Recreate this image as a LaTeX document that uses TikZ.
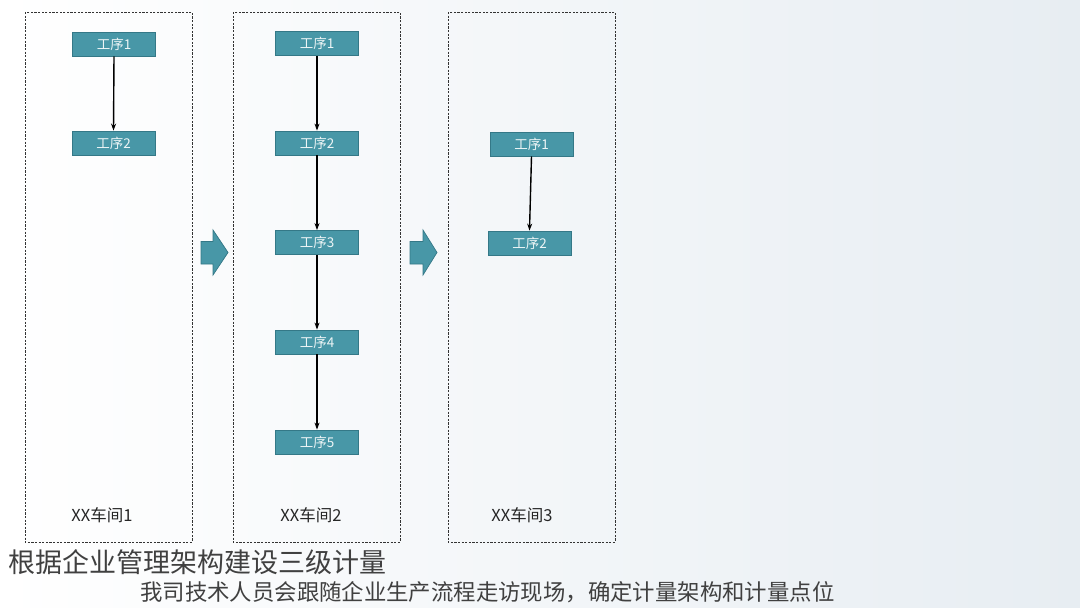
\documentclass[tikz,border=0pt]{standalone}
\usepackage{fontspec}
\setmainfont{Noto Sans CJK SC}
\usetikzlibrary{arrows.meta}
\definecolor{teal1}{RGB}{72,151,167}
\definecolor{teal2}{RGB}{52,120,135}
\definecolor{bgr}{RGB}{231,237,242}
\definecolor{txtgray}{RGB}{64,64,64}
\tikzset{
  proc/.style={draw=teal2, fill=teal1, line width=0.8pt, minimum width=83pt, minimum height=24pt,
    inner sep=0pt, text=white!90!teal1, font=\fontsize{13.5}{13.5}\selectfont},
  shop/.style={draw=black!80, dash pattern=on 2.2pt off 1.4pt, line width=1pt},
  flow/.style={-{Stealth[length=7pt,width=5pt]}, line width=1.4pt, black},
  bigarrow/.style={fill=teal1, draw=teal2, line width=0.7pt, line join=miter},
  shoplabel/.style={text=black!85, font=\fontsize{16.5}{16.5}\selectfont, inner sep=0pt}
}
\begin{document}
\begin{tikzpicture}[x=1pt,y=-1pt]
\useasboundingbox (0,0) rectangle (1080,608);
\shade[left color=white, right color=bgr] (0,0) rectangle (1080,608);

% workshop frames
\draw[shop] (25,12) rectangle (192,542);
\draw[shop] (233,12) rectangle (400,542);
\draw[shop] (448,12) rectangle (615,542);

% column 1
\node[proc] (a1) at (114,44) {工序1};
\node[proc] (a2) at (113.5,143) {工序2};
\draw[flow] (a1.south) -- (a2.north);

% column 2
\node[proc] (b1) at (317,43.5) {工序1};
\node[proc] (b2) at (317,143) {工序2};
\node[proc] (b3) at (317,242.5) {工序3};
\node[proc] (b4) at (317,342) {工序4};
\node[proc] (b5) at (317,442) {工序5};
\draw[flow] (b1.south) -- (b2.north);
\draw[flow] (b2.south) -- (b3.north);
\draw[flow] (b3.south) -- (b4.north);
\draw[flow] (b4.south) -- (b5.north);

% column 3
\node[proc] (c1) at (531.5,144) {工序1};
\node[proc] (c2) at (529.5,243) {工序2};
\draw[flow] (c1.south) -- (c2.north);

% big arrows
\draw[bigarrow] (201,241.5) -- (213,241.5) -- (213,230) -- (228,252.5) -- (213,275) -- (213,264) -- (201,264) -- cycle;
\draw[bigarrow] (410,241.5) -- (423,241.5) -- (423,230) -- (437,252.5) -- (423,275) -- (423,264) -- (410,264) -- cycle;

% labels
\node[shoplabel] (l1) at (102,515) {XX车间1};
\node[shoplabel] (l2) at (311,515) {XX车间2};
\node[shoplabel] (l3) at (522,515) {XX车间3};

\node[anchor=west, inner sep=0pt, text=txtgray, font=\fontsize{27}{27}\selectfont] (title) at (8,562) {根据企业管理架构建设三级计量};
\node[anchor=west, inner sep=0pt, text=txtgray, font=\fontsize{22.4}{22.4}\selectfont] (sub) at (140,592) {我司技术人员会跟随企业生产流程走访现场，确定计量架构和计量点位};
\end{tikzpicture}
\end{document}
